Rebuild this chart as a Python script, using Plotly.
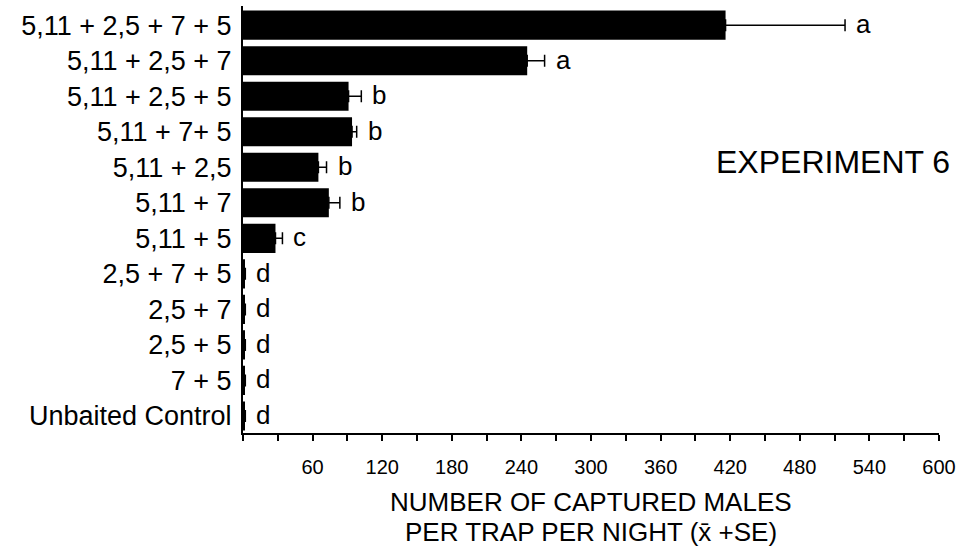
import plotly.graph_objects as go

# Treatments (pheromone component blends) and trap captures
treatments = [
    "5,11 + 2,5 + 7 + 5",
    "5,11 + 2,5 + 7",
    "5,11 + 2,5 + 5",
    "5,11 + 7+ 5",
    "5,11 + 2,5",
    "5,11 + 7",
    "5,11 + 5",
    "2,5 + 7 + 5",
    "2,5 + 7",
    "2,5 + 5",
    "7 + 5",
    "Unbaited Control",
]
mean_catch = [416, 245, 91, 94, 65, 74, 28, 1, 1, 1, 1, 1]
se_catch = [103, 15, 11, 4, 7, 9.5, 6, 1, 1, 1, 1, 1]
sig_letters = ["a", "a", "b", "b", "b", "b", "c", "d", "d", "d", "d", "d"]

# x axis: minor ticks every 30, labels every 60
tick_step = 30
x_max = 600
tick_labels = ["60", "120", "180", "240", "300", "360", "420", "480", "540", "600"]

tickvals = list(range(0, x_max + 1, tick_step))
label_map = {int(t): t for t in tick_labels}
ticktext = [label_map.get(v, "") for v in tickvals]

FONT = "Liberation Sans, Arial, Helvetica, sans-serif"

fig = go.Figure()
fig.add_trace(
    go.Bar(
        x=mean_catch,
        y=treatments,
        orientation="h",
        marker=dict(color="black", line=dict(width=0)),
        error_x=dict(
            type="data",
            symmetric=False,
            array=se_catch,
            arrayminus=[0] * len(se_catch),
            color="black",
            thickness=1.5,
            width=6,
        ),
        showlegend=False,
        hoverinfo="skip",
    )
)

# significance letters beside each error bar
for name, m, s, lab in zip(treatments, mean_catch, se_catch, sig_letters):
    fig.add_annotation(
        x=m + s,
        y=name,
        text=lab,
        showarrow=False,
        xanchor="left",
        yanchor="middle",
        xshift=9,
        yshift=1,
        font=dict(family=FONT, size=26, color="black"),
    )

fig.add_annotation(
    x=0.847,
    y=0.635,
    xref="paper",
    yref="paper",
    text="EXPERIMENT 6",
    showarrow=False,
    xanchor="center",
    yanchor="middle",
    font=dict(family=FONT, size=32, color="black"),
)

# two-line axis title
fig.add_annotation(
    x=0.5, y=0, xref="paper", yref="paper",
    text="NUMBER OF CAPTURED MALES",
    showarrow=False, xanchor="center", yanchor="middle", yshift=-69,
    font=dict(family=FONT, size=26, color="black"),
)
fig.add_annotation(
    x=0.5, y=0, xref="paper", yref="paper",
    text="PER TRAP PER NIGHT (x\u0304 +SE)",
    showarrow=False, xanchor="center", yanchor="middle", yshift=-99,
    font=dict(family=FONT, size=26, color="black"),
)

fig.update_layout(
    width=962,
    height=550,
    margin=dict(l=243, r=21, t=6, b=117),
    paper_bgcolor="white",
    plot_bgcolor="white",
    bargap=0.18,
    font=dict(family=FONT, color="black"),
    xaxis=dict(
        range=[0, x_max],
        tickmode="array",
        tickvals=tickvals,
        ticktext=ticktext,
        ticks="outside",
        ticklen=6,
        tickwidth=1.5,
        tickcolor="black",
        ticklabelstandoff=9,
        tickfont=dict(family=FONT, size=20, color="black"),
        showline=True,
        linecolor="black",
        linewidth=2,
        showgrid=False,
        zeroline=False,
    ),
    yaxis=dict(
        type="category",
        categoryorder="array",
        categoryarray=treatments,
        range=[11.48, -0.54],
        showline=True,
        linecolor="black",
        linewidth=2,
        ticks="",
        ticklabelstandoff=4,
        tickfont=dict(family=FONT, size=27, color="black"),
        showgrid=False,
        zeroline=False,
    ),
)

fig.write_html("out.html")
